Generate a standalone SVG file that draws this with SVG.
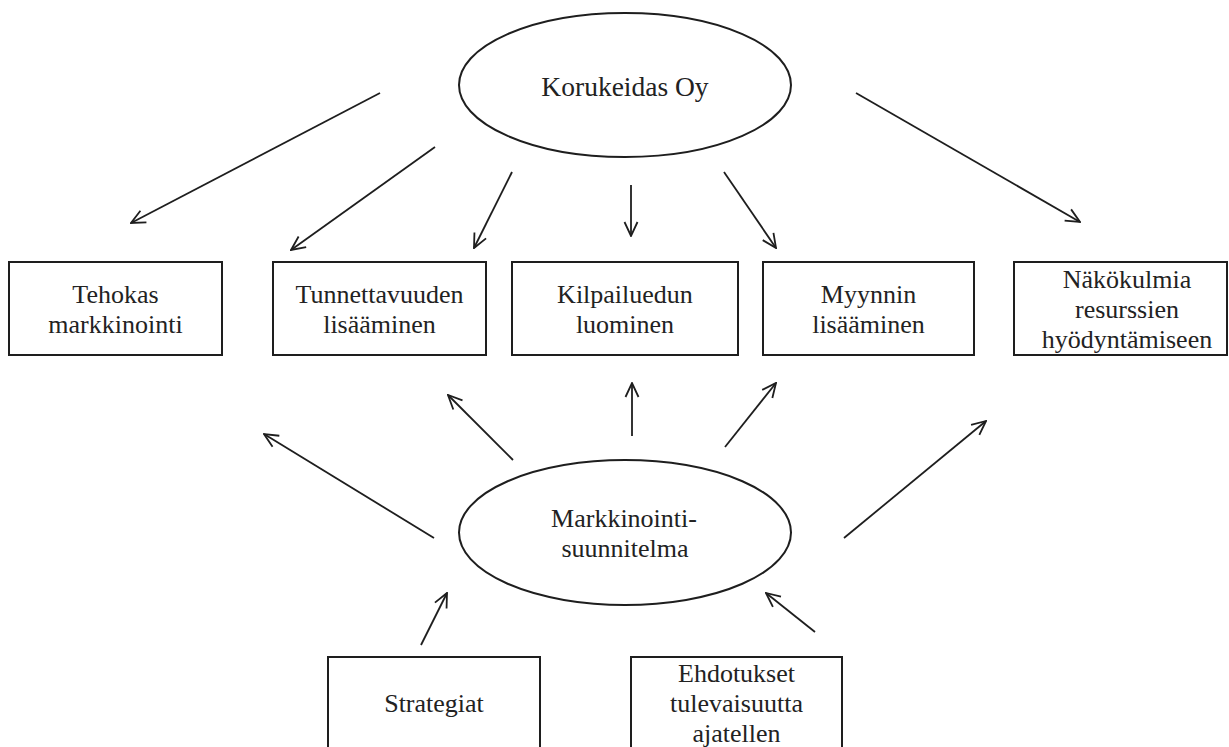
<svg xmlns="http://www.w3.org/2000/svg" width="1229" height="747" viewBox="0 0 1229 747">
<style>
.shape{fill:#fff;stroke:#1e1e1e;stroke-width:2}
.lbl{font-family:"Liberation Serif","Times New Roman",serif;font-size:26px;fill:#222;text-anchor:middle}
.big{font-size:27.5px}
.conn line{stroke:#1e1e1e;stroke-width:1.8;marker-end:url(#arr)}
</style>
<defs>
<marker id="arr" viewBox="0 0 16 16" refX="15" refY="8" markerWidth="16" markerHeight="16" markerUnits="userSpaceOnUse" orient="auto">
<path d="M1,1.5 L15,8 L1,14.5" fill="none" stroke="#1e1e1e" stroke-width="1.8"/>
</marker>
</defs>
<rect width="1229" height="747" fill="#fff"/>
<g id="korukeidas">
<ellipse class="shape" cx="625" cy="85" rx="166" ry="72"/>
<text class="lbl big" x="625" y="96">Korukeidas Oy</text>
</g>
<g id="tehokas">
<rect class="shape" x="9" y="262" width="213" height="93"/>
<text class="lbl" x="115.5" y="303">Tehokas</text>
<text class="lbl" x="115.5" y="333">markkinointi</text>
</g>
<g id="tunnettavuus">
<rect class="shape" x="273" y="262" width="213" height="93"/>
<text class="lbl" x="379.5" y="303">Tunnettavuuden</text>
<text class="lbl" x="379.5" y="333">lisääminen</text>
</g>
<g id="kilpailuetu">
<rect class="shape" x="512" y="262" width="226" height="93"/>
<text class="lbl" x="625" y="303">Kilpailuedun</text>
<text class="lbl" x="625" y="333">luominen</text>
</g>
<g id="myynti">
<rect class="shape" x="763" y="262" width="211" height="93"/>
<text class="lbl" x="868.5" y="303">Myynnin</text>
<text class="lbl" x="868.5" y="333">lisääminen</text>
</g>
<g id="nakokulmia">
<rect class="shape" x="1014" y="262" width="213" height="93"/>
<text class="lbl" x="1127" y="288">Näkökulmia</text>
<text class="lbl" x="1127" y="318">resurssien</text>
<text class="lbl" x="1127" y="348">hyödyntämiseen</text>
</g>
<g id="markkinointisuunnitelma">
<ellipse class="shape" cx="625" cy="532.5" rx="166" ry="72.5"/>
<text class="lbl" x="624" y="527">Markkinointi-</text>
<text class="lbl" x="625" y="557">suunnitelma</text>
</g>
<g id="strategiat">
<rect class="shape" x="328" y="657" width="212" height="100"/>
<text class="lbl" x="434" y="712">Strategiat</text>
</g>
<g id="ehdotukset">
<rect class="shape" x="631" y="657" width="211" height="100"/>
<text class="lbl" x="736.5" y="682">Ehdotukset</text>
<text class="lbl" x="736.5" y="712">tulevaisuutta</text>
<text class="lbl" x="736.5" y="742">ajatellen</text>
</g>
<g id="connectors" class="conn">
<line x1="380" y1="93" x2="131" y2="223"/>
<line x1="435" y1="147" x2="291" y2="250"/>
<line x1="512" y1="172" x2="474" y2="248"/>
<line x1="631" y1="185" x2="631" y2="236"/>
<line x1="724" y1="172" x2="776" y2="248"/>
<line x1="856" y1="93" x2="1080" y2="222"/>
<line x1="434" y1="538" x2="264" y2="434"/>
<line x1="513" y1="460" x2="448" y2="395"/>
<line x1="632" y1="436" x2="632" y2="383"/>
<line x1="725" y1="447" x2="776" y2="383"/>
<line x1="844" y1="538" x2="986" y2="421"/>
<line x1="421" y1="645" x2="447" y2="593"/>
<line x1="815" y1="632" x2="766" y2="593"/>
</g>
</svg>
